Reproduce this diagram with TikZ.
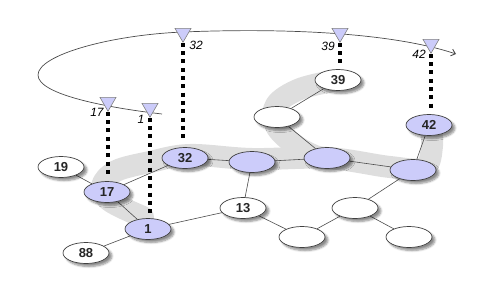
\documentclass[tikz,border=0pt]{standalone}
\usepackage{fontspec}
\setmainfont{Liberation Sans}
\usetikzlibrary{shapes.geometric,shadows.blur,arrows.meta}
\definecolor{lav}{RGB}{204,204,250}
\definecolor{bandgray}{RGB}{222,222,222}
\pgfdeclarelayer{band}
\pgfdeclarelayer{edges}
\pgfsetlayers{band,edges,main}
\tikzset{
  nd/.style={ellipse, draw=black!75, line width=0.7pt, minimum width=46pt, minimum height=21pt,
    inner sep=0pt, text=black!85, font=\bfseries\fontsize{13}{13}\selectfont,
    blur shadow={shadow xshift=3pt, shadow yshift=-3pt, shadow blur radius=2pt,
      shadow blur steps=6, shadow opacity=45}},
  wn/.style={nd, fill=white},
  bn/.style={nd, fill=lav},
  mk/.style={regular polygon, regular polygon sides=3, shape border rotate=180,
    minimum size=18.5pt, inner sep=0pt, fill=lav, draw=gray, line width=0.6pt},
  lk/.style={draw=black!70, line width=0.6pt},
  dt/.style={line width=4pt, dash pattern=on 4pt off 4.3pt, shorten >=5pt},
  ml/.style={font=\itshape\fontsize{12}{12}\selectfont, inner sep=0pt},
  bandline/.style={draw=bandgray, line width=22pt, line cap=round, line join=round}
}
\begin{document}
\begin{tikzpicture}[x=1pt,y=-1pt]
\useasboundingbox (0,0) rectangle (500,292);

% nodes
\node[wn] (n19) at (61,167) {19};
\node[bn] (n17) at (107,192) {17};
\node[bn] (n1)  at (148,229) {1};
\node[wn] (n88) at (86,253) {88};
\node[bn] (n32) at (185,158) {32};
\node[bn] (b1)  at (252,162) {};
\node[wn] (n13) at (243,208) {13};
\node[bn] (b2)  at (327,158) {};
\node[wn] (w1)  at (277,117) {};
\node[wn] (n39) at (338,80) {39};
\node[bn] (b3)  at (413,170) {};
\node[bn] (n42) at (429,125) {42};
\node[wn] (w2)  at (355,208) {};
\node[wn] (w3)  at (302,237) {};
\node[wn] (w4)  at (409,237) {};

% highlighted band
\begin{pgfonlayer}{band}
\draw[bandline] plot[smooth, tension=0.6] coordinates {(143,217) (110,201) (102,186) (116,171) (150,162) (190,155) (252,159) (327,158) (390,167) (424,168) (432,146) (430,125)};
\draw[bandline] plot[smooth, tension=0.6] coordinates {(338,80) (300,89) (276,105) (276,126) (295,145) (315,156) (327,158)};
\end{pgfonlayer}

% edges
\begin{pgfonlayer}{edges}
\draw[lk] (n19) -- (n17);
\draw[lk] (n17) -- (n32);
\draw[lk] (n17) -- (n1);
\draw[lk] (n1) -- (n88);
\draw[lk] (n1) -- (n13);
\draw[lk] (n32) -- (b1);
\draw[lk] (b1) -- (b2);
\draw[lk] (b1) -- (n13);
\draw[lk] (b2) -- (w1);
\draw[lk] (w1) -- (n39);
\draw[lk] (b2) -- (b3);
\draw[lk] (b3) -- (n42);
\draw[lk] (b3) -- (w2);
\draw[lk] (w2) -- (w3);
\draw[lk] (w2) -- (w4);
\draw[lk] (n13) -- (w3);
\end{pgfonlayer}

% ring curve
\coordinate (cs) at (162,114);
\coordinate (cl) at (38,75);
\coordinate (ct) at (183,32);
\coordinate (ce) at (456,54);
\draw[draw=black!70, line width=0.7pt, -{Straight Barb[length=4pt,width=7pt,line width=0.9pt]}]
  (cs) .. controls (110,108) and (38,95) .. (cl)
       .. controls (38,55) and (110,35) .. (ct)
       .. controls (280,28) and (390,32) .. (ce);

% markers
\node[mk] (m17) at (108,102) {};
\node[mk] (m1)  at (150,108) {};
\node[mk] (m32) at (183,33) {};
\node[mk] (m39) at (340,33) {};
\node[mk] (m42) at (431,44) {};

\node[ml] (l17) at (97,112) {17};
\node[ml] (l1)  at (141,119) {1};
\node[ml] (l32) at (196,45) {32};
\node[ml] (l39) at (328,46) {39};
\node[ml] (l42) at (419,54) {42};

% dotted drops
\draw[dt] (m17.corner 1) -- (m17.corner 1 |- n17.north);
\draw[dt, shorten >=2pt] (m1.corner 1) -- (m1.corner 1 |- n1.north);
\draw[dt] (m32.corner 1) -- (m32.corner 1 |- n32.north);
\draw[dt] (m39.corner 1) -- (m39.corner 1 |- n39.north);
\draw[dt] (m42.corner 1) -- (m42.corner 1 |- n42.north);
\end{tikzpicture}
\end{document}
